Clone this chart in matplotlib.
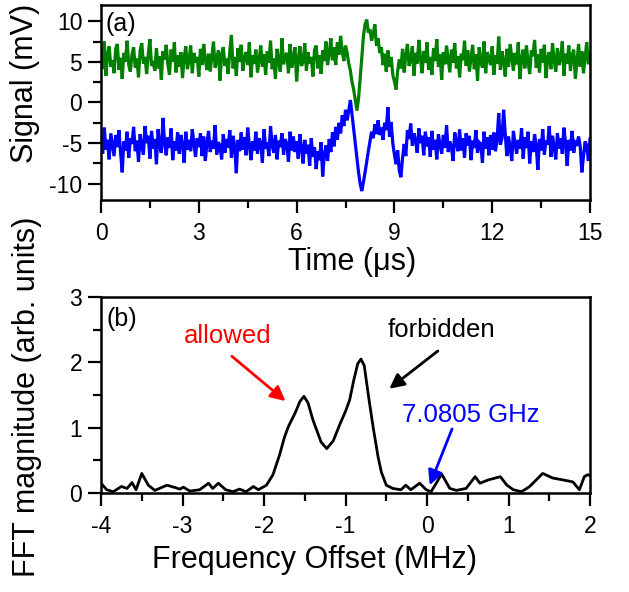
import numpy as np
import matplotlib
matplotlib.use("Agg")
import matplotlib.pyplot as plt
from matplotlib.ticker import MultipleLocator

plt.rcParams['font.family'] = ['Liberation Sans', 'DejaVu Sans']
plt.rcParams['axes.unicode_minus'] = False

# ---- panel (a): time traces, sampled every 0.05 us from 0 to 15 us ----
t_start, t_end = 0.0, 15.0

green = [
    6.2, 4.1, 7.5, 3.3, 5.8, 6.9, 4.4, 5.2, 3.6, 6.6, 7.2, 4.0, 5.5, 2.9, 6.1, 5.0, 7.6, 4.6, 3.8, 5.9,
    6.8, 4.3, 5.4, 3.1, 6.4, 7.3, 4.8, 5.6, 3.5, 6.0, 7.8, 4.5, 5.1, 3.9, 6.7, 4.2, 5.7, 2.8, 6.3, 5.3,
    7.1, 4.7, 3.4, 6.5, 5.0, 7.4, 3.7, 5.8, 4.4, 6.2, 3.0, 5.5, 6.9, 4.1, 5.2, 7.0, 3.6, 6.1, 4.9, 5.6,
    3.2, 6.6, 4.6, 7.2, 5.3, 4.0, 6.0, 3.8, 5.7, 7.5, 4.3, 5.1, 6.4, 2.7, 5.9, 6.8, 4.5, 5.4, 3.5, 6.3,
    8.3, 4.2, 5.6, 3.3, 6.7, 5.0, 7.1, 3.9, 5.5, 6.2, 4.6, 7.4, 3.1, 5.8, 4.8, 6.5, 3.7, 5.2, 7.0, 4.4,
    5.9, 3.4, 6.3, 4.9, 7.6, 4.1, 5.4, 2.9, 6.6, 5.1, 3.8, 7.9, 4.7, 5.7, 6.1, 3.6, 7.2, 4.3, 5.5, 6.8,
    2.6, 5.3, 6.9, 4.5, 5.0, 7.3, 3.9, 6.2, 4.8, 5.6, 3.2, 6.5, 7.0, 4.2, 5.8, 3.5, 6.4, 5.1, 7.5, 4.6,
    6.0, 7.9, 5.2, 6.8, 4.6, 7.4, 5.9, 8.2, 6.3, 5.1, 7.0, 6.1, 4.8, 3.9, 2.5, 1.6, 0.3, -1.0, 0.5, 3.0,
    5.5, 8.2, 9.6, 10.2, 8.6, 9.0, 7.6, 8.4, 9.6, 7.0, 7.9, 6.1, 6.8, 4.6, 6.0, 3.8, 6.4, 4.4, 5.6, 3.4,
    2.6, 1.6, 3.9, 5.3, 4.2, 6.6, 3.7, 5.8, 7.2, 4.5, 5.2, 6.9, 3.3, 6.1, 4.8, 7.7, 5.4, 3.6, 6.3, 4.9,
    7.4, 4.0, 5.6, 3.4, 6.7, 5.1, 7.8, 4.4, 5.9, 2.8, 6.2, 4.7, 7.0, 5.3, 3.7, 6.5, 4.9, 7.3, 4.2, 5.7,
    3.1, 6.0, 5.2, 7.6, 4.5, 6.4, 3.8, 5.5, 7.1, 4.1, 5.9, 2.7, 6.8, 5.0, 4.3, 7.5, 3.6, 6.2, 5.4, 4.6,
    6.9, 3.4, 5.8, 4.8, 8.1, 4.0, 6.3, 5.1, 3.2, 6.6, 4.4, 7.2, 5.6, 3.9, 6.1, 4.7, 7.4, 2.9, 5.3, 6.5,
    4.2, 7.0, 5.0, 3.5, 6.4, 5.7, 7.7, 4.3, 5.9, 3.7, 6.6, 4.9, 7.1, 3.0, 5.5, 6.2, 4.1, 7.3, 5.2, 3.8,
    6.7, 4.6, 5.4, 7.5, 3.3, 6.0, 4.8, 7.0, 3.9, 5.8, 6.5, 2.9, 5.1, 7.2, 4.4, 6.3, 3.6, 5.6, 7.4, 4.7,
    6.0,
]

blue = [
    -4.2, -6.3, -3.1, -5.8, -4.6, -7.0, -3.8, -5.2, -6.6, -4.0, -5.5, -3.4, -6.1, -8.6, -4.8, -5.9, -3.6, -6.8, -4.4, -5.1,
    -3.0, -6.0, -4.7, -7.3, -3.9, -5.4, -6.4, -2.9, -5.0, -4.1, -6.9, -3.5, -5.7, -4.5, -7.6, -3.3, -5.3, -6.2, -1.9, -4.9,
    -6.5, -4.3, -5.6, -3.2, -7.1, -4.8, -5.9, -3.7, -6.3, -4.0, -5.2, -7.4, -3.6, -5.8, -4.6, -6.0, -3.3, -5.1, -6.7, -4.4,
    -5.5, -3.8, -6.6, -4.2, -7.2, -5.0, -3.5, -6.1, -4.7, -5.7, -2.8, -6.4, -4.9, -5.3, -7.0, -3.9, -6.2, -4.5, -5.6, -3.4,
    -6.8, -4.1, -5.4, -8.7, -4.6, -6.0, -3.7, -5.8, -4.3, -6.5, -3.1, -5.2, -7.1, -4.8, -5.9, -3.6, -6.3, -4.4, -5.0, -7.4,
    -3.3, -5.7, -4.9, -6.6, -2.9, -5.3, -6.2, -4.0, -7.0, -4.7, -5.5, -3.8, -6.4, -4.5, -5.1, -7.3, -3.6, -5.9, -4.2, -6.1,
    -4.8, -6.9, -3.9, -5.6, -7.5, -4.6, -6.3, -5.2, -7.8, -4.4, -6.7, -5.5, -8.2, -6.0, -7.1, -4.9, -9.1, -6.4, -5.3, -7.2,
    -4.5, -6.1, -3.7, -5.4, -3.0, -4.6, -2.5, -3.8, -1.6, -2.9, -0.9, -2.2, -1.0, 0.3, -1.5, -3.2, -5.0, -7.0, -8.6, -10.0,
    -10.9, -9.8, -8.6, -7.3, -6.0, -4.8, -3.6, -4.4, -2.7, -3.9, -2.2, -4.0, -3.1, -4.6, -2.5, -3.4, -0.6, -4.2, -2.4, -5.0,
    -6.4, -7.6, -5.9, -8.4, -9.2, -6.8, -5.1, -6.6, -3.4, -4.5, -2.6, -5.3, -3.8, -4.7, -6.2, -3.2, -5.0, -4.1, -6.5, -3.6,
    -5.4, -4.3, -6.7, -3.5, -5.8, -4.6, -7.0, -3.9, -5.2, -6.3, -4.0, -5.6, -2.8, -6.1, -4.8, -5.5, -7.2, -3.7, -4.9, -6.0,
    -3.3, -5.9, -4.4, -6.8, -3.8, -5.3, -4.1, -7.1, -4.7, -5.6, -3.4, -6.2, -4.9, -5.1, -7.4, -3.6, -5.7, -4.3, -6.5, -4.0,
    -5.8, -3.7, -6.0, -4.5, -1.3, -5.2, -4.4, -0.9, -3.9, -6.6, -4.2, -5.5, -7.2, -3.5, -5.0, -6.3, -4.6, -5.7, -3.2, -6.9,
    -4.3, -5.6, -3.6, -7.5, -4.8, -6.1, -3.9, -5.3, -8.3, -4.5, -5.9, -3.3, -6.4, -4.7, -5.2, -2.9, -6.7, -4.1, -5.5, -7.0,
    -3.8, -5.7, -4.4, -6.3, -3.1, -5.0, -7.8, -4.6, -5.9, -3.5, -6.2, -4.9, -5.1, -4.2, -5.4, -8.6, -6.6, -4.8, -5.3, -7.2,
    -4.5,
]

# ---- panel (b): FFT magnitude ----
freq = [-4.0, -3.93, -3.85, -3.75, -3.68, -3.62, -3.57, -3.5, -3.42, -3.34, -3.19, -3.03,
        -2.99, -2.91, -2.79, -2.68, -2.63, -2.56, -2.47, -2.38, -2.3, -2.22, -2.13, -2.07,
        -1.97, -1.89, -1.81, -1.75, -1.7, -1.62, -1.56, -1.51, -1.46, -1.4, -1.3, -1.23,
        -1.15, -1.07, -1.0, -0.95, -0.9, -0.85, -0.81, -0.77, -0.72, -0.66, -0.6, -0.56,
        -0.5, -0.42, -0.32, -0.26, -0.2, -0.09, -0.01, 0.05, 0.18, 0.28, 0.36, 0.48,
        0.59, 0.65, 0.75, 0.9, 0.98, 1.06, 1.16, 1.26, 1.42, 1.54, 1.67, 1.79,
        1.87, 1.93, 1.97, 2.0]
fft_mag = [0.15, 0.05, 0.02, 0.1, 0.07, 0.16, 0.05, 0.3, 0.12, 0.04, 0.12, 0.06,
           0.09, 0.03, 0.05, 0.15, 0.07, 0.15, 0.05, 0.02, 0.06, 0.02, 0.1, 0.05,
           0.12, 0.28, 0.58, 0.85, 1.02, 1.22, 1.4, 1.48, 1.38, 1.12, 0.78, 0.68,
           0.8, 1.05, 1.25, 1.42, 1.72, 1.98, 2.05, 1.95, 1.5, 1.0, 0.55, 0.32,
           0.12, 0.07, 0.05, 0.12, 0.05, 0.15, 0.05, 0.02, 0.29, 0.07, 0.04, 0.07,
           0.25, 0.15, 0.2, 0.25, 0.12, 0.05, 0.02, 0.1, 0.3, 0.23, 0.2, 0.17,
           0.05, 0.25, 0.28, 0.27]

time = np.linspace(t_start, t_end, len(green))

fig = plt.figure(figsize=(6.29, 5.92), dpi=100)
ax1 = fig.add_axes([0.1606, 0.6622, 0.7774, 0.3294])
ax2 = fig.add_axes([0.1606, 0.1672, 0.7774, 0.3311])

ax1.plot(time, green, color='#008000', lw=2.3, solid_joinstyle='miter')
ax1.plot(time, blue, color='#0000ff', lw=2.3, solid_joinstyle='miter')
ax1.set_xlim(0, 15)
ax1.set_ylim(-12, 12)
ax1.xaxis.set_major_locator(MultipleLocator(3))
ax1.xaxis.set_minor_locator(MultipleLocator(1.5))
ax1.yaxis.set_major_locator(MultipleLocator(5))
ax1.yaxis.set_minor_locator(MultipleLocator(2.5))
ax1.set_xlabel('Time (μs)', fontsize=22, va='center')
ax1.xaxis.set_label_coords(0.513, -0.318)
ax1.set_ylabel('Signal (mV)', fontsize=22, va='center')
ax1.yaxis.set_label_coords(-0.155, 0.6)
ax1.text(0.15, 9.6, '(a)', fontsize=18, va='center', ha='left')

ax2.plot(freq, fft_mag, color='black', lw=2.0, solid_joinstyle='round')
ax2.set_xlim(-4, 2)
ax2.set_ylim(0, 3)
ax2.xaxis.set_major_locator(MultipleLocator(1))
ax2.xaxis.set_minor_locator(MultipleLocator(0.5))
ax2.yaxis.set_major_locator(MultipleLocator(1))
ax2.yaxis.set_minor_locator(MultipleLocator(0.5))
ax2.set_xlabel('Frequency Offset (MHz)', fontsize=22, va='center')
ax2.xaxis.set_label_coords(0.436, -0.34)
ax2.set_ylabel('FFT magnitude (arb. units)', fontsize=22, va='center')
ax2.yaxis.set_label_coords(-0.151, 0.49)
ax2.text(-3.93, 2.66, '(b)', fontsize=18, va='center', ha='left')

ax2.annotate('', xy=(-1.71, 1.38), xytext=(-2.42, 2.12),
             arrowprops=dict(arrowstyle='-|>', color='red', lw=2, mutation_scale=22))
ax2.text(-2.44, 2.4, 'allowed', color='red', fontsize=18.5, ha='center', va='center')
ax2.annotate('', xy=(-0.49, 1.57), xytext=(0.16, 2.2),
             arrowprops=dict(arrowstyle='-|>', color='black', lw=2, mutation_scale=22))
ax2.text(0.18, 2.49, 'forbidden', color='black', fontsize=18.5, ha='center', va='center')
ax2.annotate('', xy=(0.02, 0.08), xytext=(0.32, 1.02),
             arrowprops=dict(arrowstyle='-|>', color='blue', lw=2, mutation_scale=22))
ax2.text(0.54, 1.2, '7.0805 GHz', color='blue', fontsize=18.5, ha='center', va='center')

for ax in (ax1, ax2):
    for sp in ax.spines.values():
        sp.set_linewidth(1.8)
    ax.tick_params(which='major', direction='out', length=9.5, width=1.6, labelsize=16.5, pad=4)
    ax.tick_params(which='minor', direction='out', length=5.5, width=1.6)
    ax.tick_params(axis='x', which='major', pad=6)

fig.savefig('out.png', dpi=100)
